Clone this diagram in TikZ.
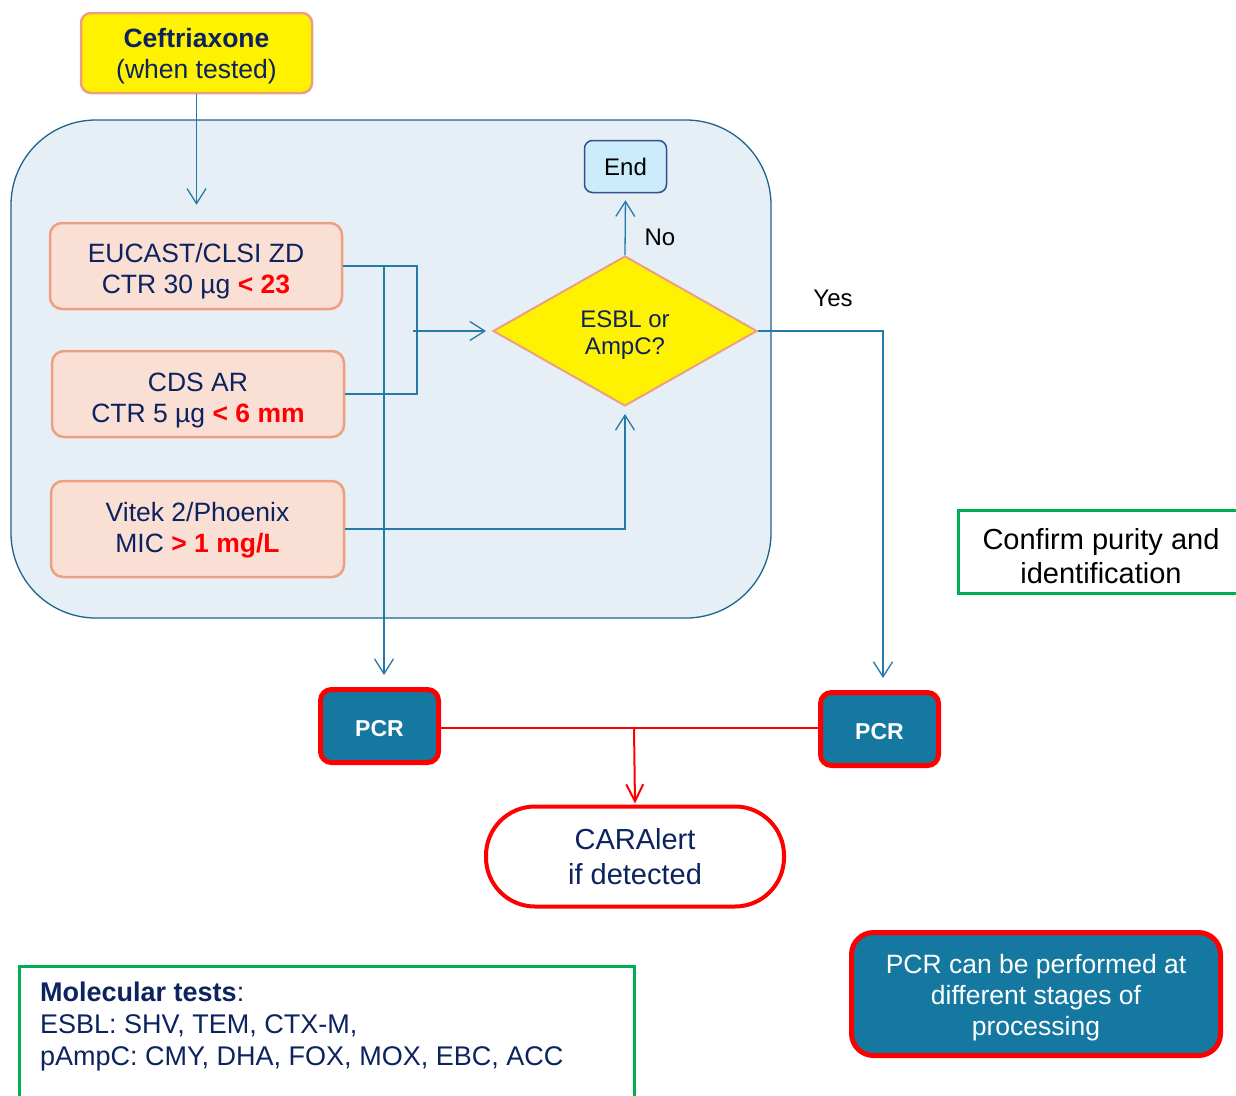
\documentclass[tikz,border=0pt]{standalone}
\usepackage{fontspec}
\setmainfont{Liberation Sans}
\usetikzlibrary{shapes.geometric,arrows.meta}
\definecolor{navy}{RGB}{12,35,95}
\definecolor{lineblue}{RGB}{38,122,168}
\definecolor{regionfill}{RGB}{230,239,246}
\definecolor{regionline}{RGB}{30,100,140}
\definecolor{salmon}{RGB}{236,160,128}
\definecolor{pinkfill}{RGB}{250,223,213}
\definecolor{endfill}{RGB}{204,236,252}
\definecolor{endline}{RGB}{50,80,140}
\definecolor{pcrblue}{RGB}{20,120,160}
\definecolor{boxgreen}{RGB}{0,176,80}
\definecolor{pcrred}{RGB}{255,0,0}
\newcommand\myfs[2]{\fontsize{#1}{#2}\selectfont}
\newcommand\dn[1]{\rule{0pt}{#1}}
\begin{document}
\begin{tikzpicture}[x=1pt,y=-1pt,
  salmonbox/.style={draw=salmon, line width=2.5pt, fill=pinkfill, rounded corners=12pt,
    text=navy, align=center, font=\myfs{26.5}{31}, inner sep=0pt},
  pcrbox/.style={draw=pcrred, line width=5pt, fill=pcrblue, rounded corners=11pt,
    text=white, align=center, inner sep=0pt},
  greenbox/.style={draw=boxgreen, line width=3pt, fill=white, inner sep=0pt},
  conn/.style={draw=lineblue, line width=1.3pt},
  arr/.style={conn, -{Straight Barb[length=15pt,width=19pt]}},
  redconn/.style={draw=pcrred, line width=2pt},
  redarr/.style={redconn, -{Straight Barb[length=17pt,width=17pt]}},
  lbl/.style={text=black, font=\myfs{24}{28}, inner sep=0pt}
]
\useasboundingbox (0,0) rectangle (1236,1095);
\fill[white] (0,0) rectangle (1236,1095);

% background region
\node[draw=regionline, line width=1.3pt, fill=regionfill, rounded corners=85pt,
  minimum width=760pt, minimum height=498pt, inner sep=0pt] (region) at (391,369) {};

% top box
\node[salmonbox, fill=yellow, rounded corners=10pt, minimum width=231pt, minimum height=80pt] (ceft) at (196.5,53)
  {\dn{25pt}{\bfseries Ceftriaxone}\\(when tested)};

% test boxes
\node[salmonbox, minimum width=292pt, minimum height=86pt] (eucast) at (196,266)
  {\dn{29pt}EUCAST/CLSI ZD\\CTR 30 µg {\color{pcrred}\bfseries < 23}};
\node[salmonbox, minimum width=292pt, minimum height=86pt] (cds) at (198,394)
  {\dn{31pt}CDS AR\\CTR 5 µg {\color{pcrred}\bfseries < 6 mm}};
\node[salmonbox, minimum width=293pt, minimum height=96pt] (vitek) at (197.5,529)
  {\dn{21pt}Vitek 2/Phoenix\\MIC {\color{pcrred}\bfseries > 1 mg/L}};

% decision
\node[diamond, draw=salmon, line width=2pt, fill=yellow, minimum width=264pt, minimum height=150pt,
  inner sep=0pt, text=navy, align=center, font=\myfs{24}{27}] (diam) at (625,331)
  {\dn{25.5pt}ESBL or\\AmpC?};
\node[draw=endline, line width=1.5pt, fill=endfill, rounded corners=8pt, minimum width=82pt,
  minimum height=52pt, inner sep=0pt, text=black, font=\myfs{24}{28}] (endn) at (625.5,166.5) {End};

\node[lbl] (lblno) at (660,237) {No};
\node[lbl] (lblyes) at (833,298) {Yes};

% PCR boxes
\node[pcrbox, minimum width=118pt, minimum height=73pt, font=\bfseries\myfs{23}{28}] (pcr1) at (379.5,726) {\dn{20.5pt}PCR};
\node[pcrbox, minimum width=118pt, minimum height=73pt, font=\bfseries\myfs{23}{28}] (pcr2) at (879.5,729) {\dn{20.5pt}PCR};

% CARAlert
\node[draw=pcrred, line width=4pt, fill=white, rounded corners=49pt, minimum width=298pt,
  minimum height=100pt, inner sep=0pt, text=navy, align=center, font=\myfs{29}{35}] (car) at (635,856.5)
  {CARAlert\\if detected};

% side boxes
\node[greenbox, minimum width=282pt, minimum height=83pt, align=center, text=black,
  font=\myfs{29}{34}] (confirm) at (1099,551.5) {};
\node[text=black, align=center, font=\myfs{29}{34}, inner sep=0pt] (confirmtxt) at (1101,556)
  {Confirm purity and\\identification};

\node[greenbox, minimum width=615pt, minimum height=150pt] (molbox) at (326.5,1041) {};
\node[anchor=north west, inner sep=0pt, align=left, text=navy, font=\myfs{27}{32}] (moltext) at (40,982)
  {{\bfseries Molecular tests}:\\ESBL: SHV, TEM, CTX-M,\\pAmpC: CMY, DHA, FOX, MOX, EBC, ACC};

\node[pcrbox, rounded corners=22pt, minimum width=369pt, minimum height=123pt, font=\myfs{26.5}{31}] (note) at (1036,994)
  {\dn{27pt}PCR can be performed at\\different stages of\\processing};

% coordinates
\coordinate (jx) at (417,0);
\coordinate (dx) at (384,0);
\coordinate (mx) at (413,331);
\coordinate (yx) at (883,331);
\coordinate (rl) at (634,727.5);

% connectors
\draw[arr, shorten >=17pt] (ceft.south) -- (ceft.south |- eucast.north);
\draw[conn] (eucast.east) -- (eucast.east -| jx) -- (cds.east -| jx) -- (cds.east);
\draw[arr, shorten >=6pt] (mx) -- (diam.west);
\draw[arr, shorten >=12pt] (eucast.east -| dx) -- (dx |- pcr1.north);
\draw[arr, shorten >=7pt] (vitek.east) -| (diam.south);
\draw[arr, shorten >=7pt] (diam.north) -- (endn.south);
\draw[arr, shorten >=12pt] (diam.east) -- (yx) -- (yx |- pcr2.north);

\draw[redconn] (pcr1.east |- rl) -- (pcr2.west |- rl);
\draw[redarr, shorten >=1pt] (rl) -- (car.north);
\end{tikzpicture}
\end{document}
